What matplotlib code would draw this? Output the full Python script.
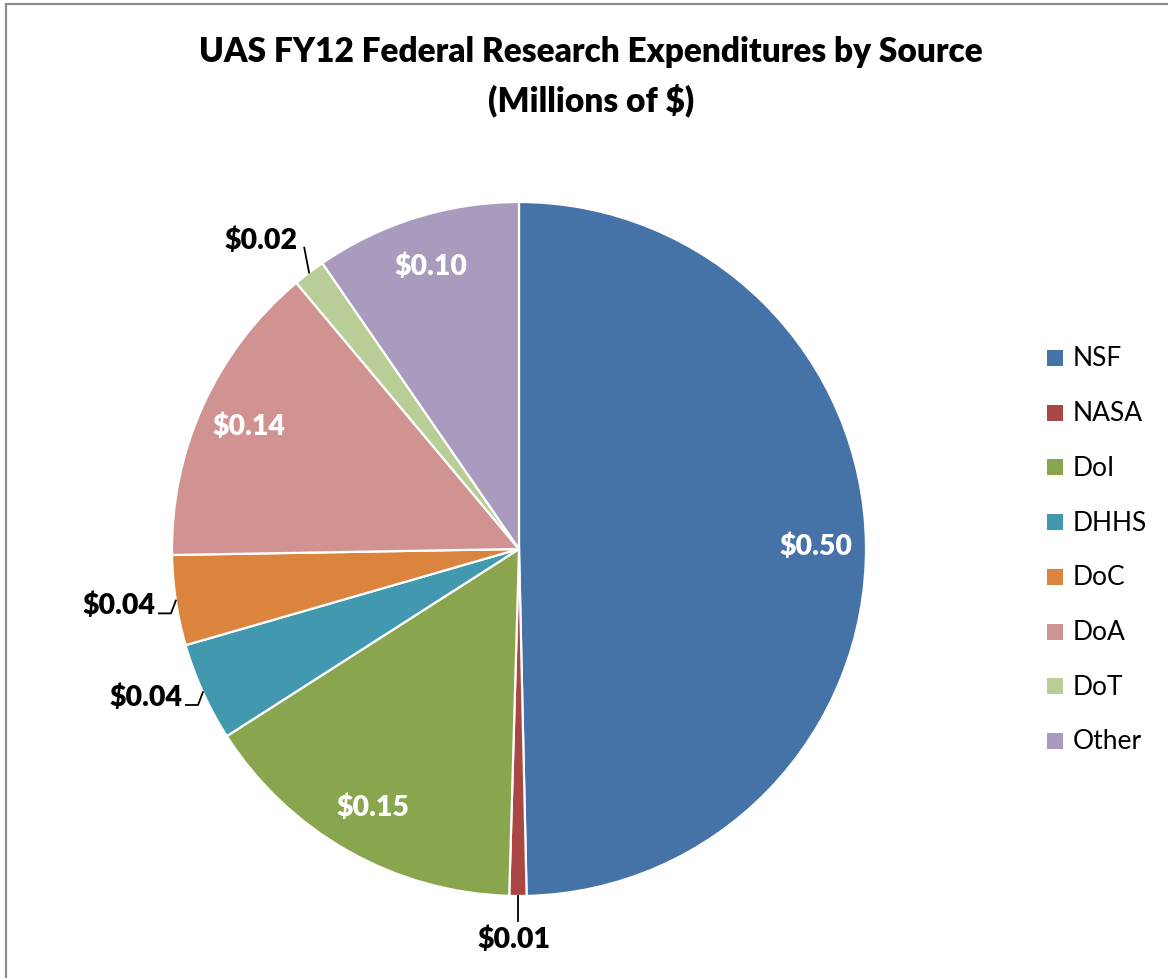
import numpy as np
import matplotlib
matplotlib.use("Agg")
import matplotlib.pyplot as plt
from matplotlib.patches import Rectangle

# --- data (Millions of $) ---
sources = ['NSF', 'NASA', 'DoI', 'DHHS', 'DoC', 'DoA', 'DoT', 'Other']
values = [0.497, 0.008, 0.155, 0.046, 0.042, 0.142, 0.015, 0.096]
value_labels = ['$0.50', '$0.01', '$0.15', '$0.04', '$0.04', '$0.14', '$0.02', '$0.10']
colors = ['#4572A7', '#AA4643', '#89A54E', '#4198AF', '#DB843D', '#D19392', '#B9CD97', '#A99BBD']
outside = [False, True, False, True, True, False, True, False]

plt.rcParams['font.family'] = ['Lato', 'DejaVu Sans']

W, H = 1168, 979
fig = plt.figure(figsize=(W / 100, H / 100), dpi=100)

# frame line of the chart area (top and left visible)
fig.add_artist(plt.Line2D([6 / W, 6 / W], [0, 1 - 5 / H], color='#8C8C8C', lw=1.6))
fig.add_artist(plt.Line2D([6 / W, 1], [1 - 5 / H, 1 - 5 / H], color='#8C8C8C', lw=1.6))

fig.text(591 / W, 1 - 52 / H, 'UAS FY12 Federal Research Expenditures by Source',
         ha='center', va='center', fontsize=24, fontweight='heavy')
fig.text(591 / W, 1 - 100 / H, '(Millions of $)',
         ha='center', va='center', fontsize=24, fontweight='heavy')

cx, cy, R = 519, 550, 347
ax = fig.add_axes([(cx - R) / W, (H - cy - R) / H, 2 * R / W, 2 * R / H])
wedges, _ = ax.pie(values, colors=colors, startangle=90, counterclock=False,
                   radius=1.0, wedgeprops=dict(edgecolor='white', linewidth=1.6))
ax.set_xlim(-1, 1)
ax.set_ylim(-1, 1)
ax.set_aspect('equal')
ax.axis('off')

lab_kw = dict(fontsize=20.5, fontweight='heavy')
line_kw = dict(color='black', lw=1.3, clip_on=False)
for w, lab, out in zip(wedges, value_labels, outside):
    mid = np.deg2rad((w.theta1 + w.theta2) / 2)
    c, s = np.cos(mid), np.sin(mid)
    if not out:
        ax.text(0.855 * c, 0.855 * s, lab, ha='center', va='center', color='white', **lab_kw)
        continue
    x0, y0 = c, s
    if abs(c) < 0.1:
        # straight down below the slice
        ax.plot([x0, x0], [y0, y0 - 0.072], **line_kw)
        ax.text(x0 - 0.012, y0 - 0.085, lab, ha='center', va='top', **lab_kw)
    elif s > 0.6:
        x1, y1 = x0 - 0.014, y0 + 0.072
        ax.plot([x0, x1], [y0, y1], **line_kw)
        ax.text(x1 - 0.02, y1 + 0.023, lab, ha='right', va='center', **lab_kw)
    else:
        x1, y1 = x0 - 0.014, y0 - 0.037
        x2 = x1 - 0.035
        ax.plot([x0, x1, x2], [y0, y1, y1], **line_kw)
        ax.text(x2 - 0.01, y1 + 0.024, lab, ha='right', va='center', **lab_kw)

# legend
for i, (src, col) in enumerate(zip(sources, colors)):
    yc = 359 + i * 54.7
    fig.add_artist(Rectangle((1047 / W, 1 - (yc + 8) / H), 16 / W, 16 / H,
                             facecolor=col, edgecolor='none'))
    fig.text(1073 / W, 1 - yc / H, src, ha='left', va='center', fontsize=19)

fig.savefig('out.png', dpi=100)
